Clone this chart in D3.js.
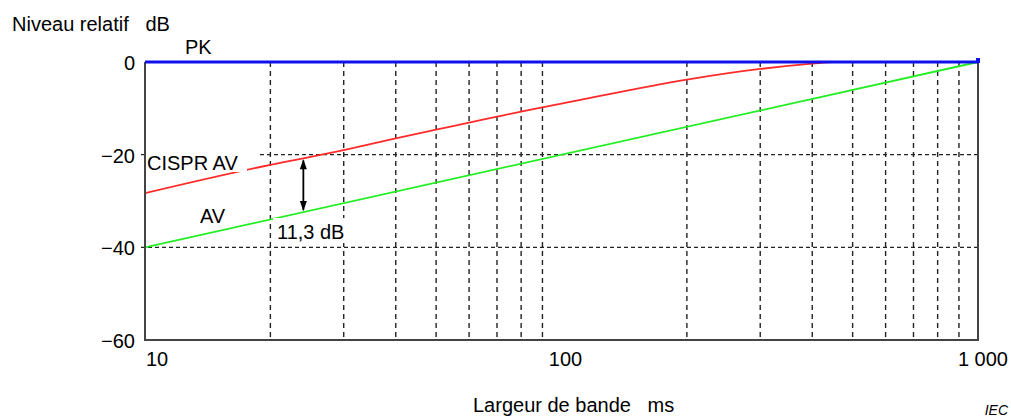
<!DOCTYPE html>
<html><head><meta charset="utf-8">
<script src="https://cdn.jsdelivr.net/npm/d3@7/dist/d3.min.js"></script>
<style>body{margin:0;background:#fff}svg{display:block}text{font-family:"Liberation Sans",Arial,sans-serif;fill:#000}</style>
</head><body><svg id="c" width="1011" height="417"></svg>
<script>
const xTicks = [10, 100, 1000];
const xTickLabels = ["10", "100", "1 000"];
const xGrid = [20,30,40,50,60,70,80,90,200,300,400,500,600,700,800,900];
const yTicks = [0, -20, -40, -60];
const yTickLabels = ["0", "\u221220", "\u221240", "\u221260"];
const pkT = [10, 1000];
const pkV = [0, 0];
const avT = [10, 1000];
const avV = [-40, 0];
const cisprT = [10, 20, 24, 30, 40, 50, 60, 70, 80, 90, 100, 200, 300, 400, 450, 500];
const cisprV = [-28.3, -22.2, -20.8, -19.0, -16.5, -14.6, -13.1, -11.8, -10.7, -9.8, -9.0, -3.8, -1.5, -0.35, 0, 0];
const arrowT = 24;
const arrowTop = -20.8;
const arrowBottom = -32.4;

const svg = d3.select("#c");
const x = d3.scaleLog().domain([10, 1000]).range([145, 978]);
const y = d3.scaleLinear().domain([-60, 0]).range([340, 62]);

// vertical grid
svg.append("g").selectAll("line").data(xGrid).join("line")
  .attr("x1", d => x(d)).attr("x2", d => x(d)).attr("y1", y(0)).attr("y2", y(-60))
  .attr("stroke", "#222").attr("stroke-width", 1.4).attr("stroke-dasharray", "5,4");
// horizontal grid
svg.append("g").selectAll("line").data([-20, -40]).join("line")
  .attr("x1", 141).attr("x2", x(1000)).attr("y1", d => y(d)).attr("y2", d => y(d))
  .attr("stroke", "#222").attr("stroke-width", 1.4).attr("stroke-dasharray", "4,3");

const line = d3.line().x(d => x(d[0])).y(d => y(d[1]));
svg.append("path").datum(avT.map((t,i)=>[t, avV[i]])).attr("d", line)
  .attr("fill","none").attr("stroke","#22ee22").attr("stroke-width",1.8);
svg.append("path").datum(cisprT.map((t,i)=>[t, cisprV[i]])).attr("d", d3.line().curve(d3.curveMonotoneX).x(d => x(d[0])).y(d => y(d[1])))
  .attr("fill","none").attr("stroke","#ff2a2a").attr("stroke-width",1.8);

// axes frame
svg.append("line").attr("x1", x(10)).attr("x2", x(10)).attr("y1", y(0)).attr("y2", y(-60)+1).attr("stroke","#444").attr("stroke-width",2);
svg.append("line").attr("x1", x(1000)).attr("x2", x(1000)).attr("y1", y(0)).attr("y2", y(-60)+1).attr("stroke","#444").attr("stroke-width",2);
svg.append("line").attr("x1", x(10)-1).attr("x2", x(1000)+1).attr("y1", y(-60)).attr("y2", y(-60)).attr("stroke","#444").attr("stroke-width",2);

// PK line
svg.append("path").datum(pkT.map((t,i)=>[t, pkV[i]])).attr("d", line)
  .attr("fill","none").attr("stroke","#1010ee").attr("stroke-width",3.2);
svg.append("rect").attr("x", x(1000)-2).attr("y", y(0)-4).attr("width",4).attr("height",5).attr("fill","#1010ee");

// y tick labels
svg.append("g").selectAll("text").data(yTicks).join("text")
  .attr("x", 135).attr("y", d => y(d) + 8).attr("text-anchor","end").attr("font-size", 20)
  .text((d,i) => yTickLabels[i]);
// x tick labels
const xAnch = ["start","middle","end"];
const xOff = [1, 4, 30];
svg.append("g").selectAll("text").data(xTicks).join("text")
  .attr("x", (d,i) => x(d) + xOff[i]).attr("y", 366).attr("text-anchor",(d,i)=>xAnch[i]).attr("font-size", 20)
  .text((d,i) => xTickLabels[i]);

// annotations
svg.append("rect").attr("x", 147).attr("y", 146).attr("width", 100).attr("height", 26).attr("fill","#fff");
svg.append("rect").attr("x", 247).attr("y", 149).attr("width", 12).attr("height", 8).attr("fill","#fff");
svg.append("text").attr("x", 147).attr("y", 170).attr("font-size", 20).text("CISPR AV");
svg.append("text").attr("x", 200).attr("y", 223).attr("font-size", 20).text("AV");
svg.append("rect").attr("x", 273).attr("y", 218).attr("width", 80).attr("height", 25).attr("fill","#fff");
svg.append("text").attr("x", 277).attr("y", 239).attr("font-size", 20).text("11,3 dB");

// arrow
const ax = x(arrowT), ay1 = y(arrowTop), ay2 = y(arrowBottom);
svg.append("line").attr("x1", ax).attr("x2", ax).attr("y1", ay1+2).attr("y2", ay2-2).attr("stroke","#000").attr("stroke-width",1.8);
svg.append("path").attr("d", `M${ax},${ay1+1} L${ax-3.5},${ay1+11} L${ax+3.5},${ay1+11} Z`).attr("fill","#000");
svg.append("path").attr("d", `M${ax},${ay2-1} L${ax-3.5},${ay2-11} L${ax+3.5},${ay2-11} Z`).attr("fill","#000");

// titles
svg.append("text").attr("x", 12).attr("y", 31).attr("font-size", 20).attr("xml:space","preserve").text("Niveau relatif   dB");
svg.append("text").attr("x", 185).attr("y", 54).attr("font-size", 20).text("PK");
svg.append("text").attr("x", 473).attr("y", 412).attr("font-size", 20).attr("xml:space","preserve").text("Largeur de bande   ms");
svg.append("text").attr("x", 1008).attr("y", 415).attr("font-size", 14).attr("font-style","italic").attr("text-anchor","end").text("IEC");
</script></body></html>
